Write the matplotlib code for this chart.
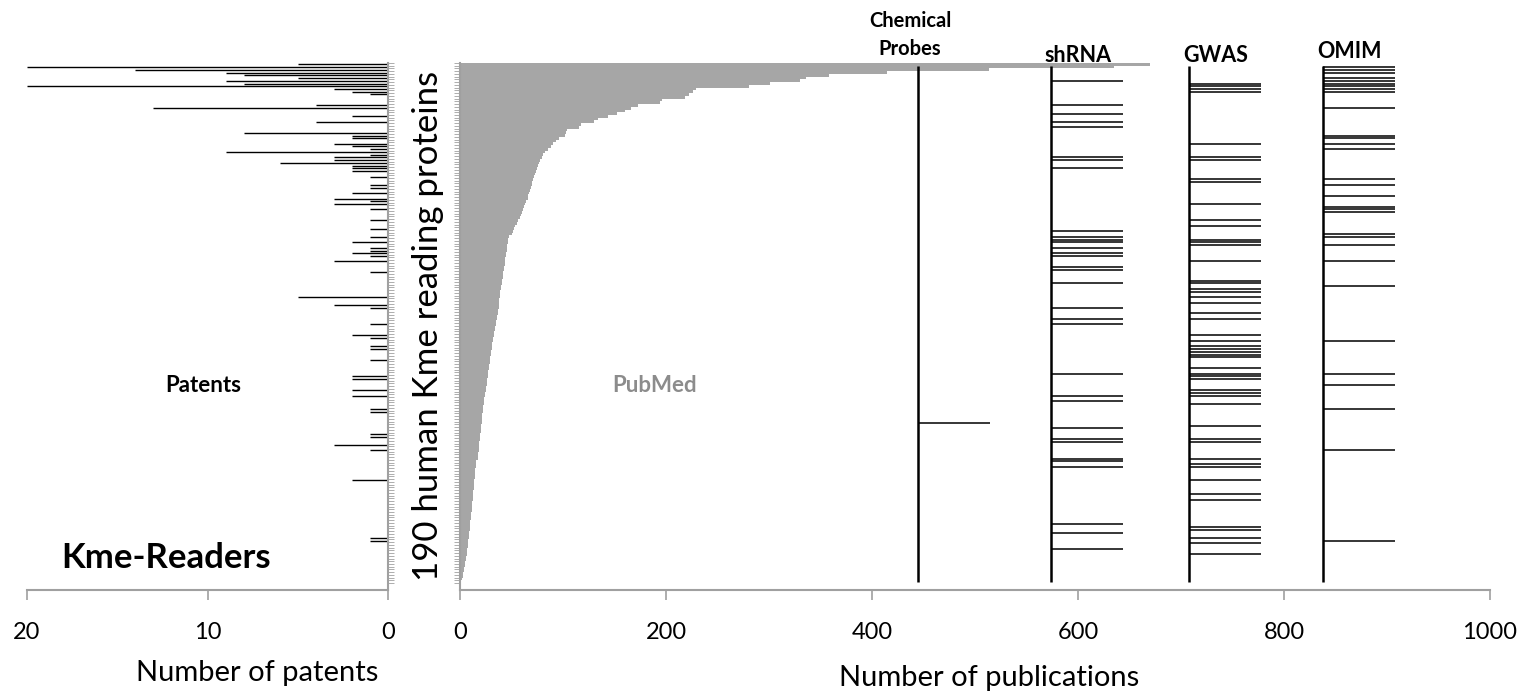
import matplotlib
matplotlib.use('Agg')
import matplotlib.pyplot as plt
import matplotlib.transforms as mtransforms
import numpy as np

plt.rcParams['font.family'] = ['Lato', 'DejaVu Sans']

# PubMed publications per protein (sorted, 190 proteins)
pubmed = [670, 635, 514, 415, 358, 336, 330, 301, 281, 229,
          226, 222, 218, 196, 194, 173, 166, 160, 152, 144,
          134, 130, 117, 116, 104, 103, 102, 96, 93, 90,
          88, 85, 83, 81, 80, 78, 77, 76, 75, 74,
          73, 72, 71, 70, 70, 69, 68, 67, 66, 66,
          64, 63, 62, 61, 60, 59, 58, 56, 55, 53,
          52, 51, 50, 48, 47, 47, 46, 46, 46, 45,
          45, 44, 44, 44, 43, 43, 42, 42, 42, 41,
          41, 40, 40, 39, 39, 39, 38, 38, 38, 38,
          37, 37, 36, 36, 35, 35, 34, 34, 33, 33,
          32, 32, 31, 31, 31, 30, 30, 29, 29, 29,
          28, 28, 27, 27, 27, 26, 26, 26, 25, 25,
          24, 24, 23, 23, 23, 22, 22, 22, 21, 21,
          21, 21, 20, 20, 20, 19, 19, 19, 18, 18,
          18, 18, 17, 17, 17, 16, 16, 16, 15, 15,
          15, 15, 14, 14, 14, 14, 13, 13, 13, 13,
          12, 12, 12, 12, 11, 11, 11, 10, 10, 10,
          10, 9, 9, 9, 8, 8, 8, 7, 7, 7,
          6, 6, 5, 5, 4, 4, 3, 3, 2, 1]

# patents: protein index -> number of patents
patent_rows = [0, 1, 2, 3, 4, 5, 6, 7, 8, 9, 10, 11, 15, 16, 19, 21,
               25, 26, 27, 29, 30, 31, 32, 33, 34, 35, 36, 37, 38, 39,
               41, 44, 45, 47, 49, 50, 51, 53, 57, 60, 63, 65, 67, 68, 69, 70, 72, 76,
               85, 88, 89, 95, 99, 100, 103, 104, 108,
               114, 115, 119, 121, 126, 127, 135, 136, 139, 141, 152, 173, 174]
patent_counts = [5, 20, 14, 9, 8, 5, 9, 8, 20, 3, 2, 1, 4, 13, 2, 4,
                 8, 2, 2, 3, 2, 1, 9, 1, 3, 3, 6, 2, 2, 2,
                 1, 1, 1, 2, 3, 1, 3, 1, 1, 1, 1, 2, 1, 1, 2, 1, 3, 1,
                 5, 3, 1, 1, 2, 1, 1, 1, 1,
                 2, 2, 2, 2, 1, 1, 1, 1, 3, 1, 2, 1, 1]

# proteins with a hit in each resource
chem_rows = [131]
shrna_rows = [6, 15, 18, 21, 23, 34, 35, 38, 61, 63, 64, 65, 67, 69, 70, 74, 75, 80,
              89, 93, 95, 113, 121, 123, 133, 137, 138, 144, 145, 147, 168, 171, 177]
gwas_rows = [7, 8, 9, 10, 29, 34, 35, 42, 43, 51, 57, 59, 64, 65, 66, 72, 79, 80, 82,
             83, 85, 87, 91, 93, 99, 101, 103, 104, 105, 106, 107, 111, 113, 114, 115,
             119, 120, 121, 124, 132, 137, 138, 144, 146, 147, 152, 157, 159, 169, 170,
             173, 175, 179]
omim_rows = [1, 2, 3, 5, 6, 7, 8, 9, 10, 16, 26, 27, 29, 31, 42, 44, 48, 52, 53, 54,
             62, 63, 66, 72, 81, 101, 113, 117, 126, 141, 174]

track_names = ['Chemical\nProbes', 'shRNA', 'GWAS', 'OMIM']
track_rows = [chem_rows, shrna_rows, gwas_rows, omim_rows]
track_base = [445, 574, 708, 838]
stick = 70

grey = '#a0a0a0'
n = len(pubmed)
W, H = 1522, 694

fig = plt.figure(figsize=(W / 100, H / 100), dpi=100)
ax_l = fig.add_axes([27 / W, 1 - 590 / H, 361 / W, 527 / H])
ax_r = fig.add_axes([460 / W, 1 - 590 / H, 1030 / W, 527 / H])

# left: patents
ax_l.hlines(patent_rows, 0, patent_counts, color='black', lw=1.0)
ax_l.set_xlim(20, 0)
ax_l.set_ylim(n + 2, -0.5)
ax_l.set_xticks([20, 10, 0])
ax_l.yaxis.tick_right()
ax_l.set_yticks(np.arange(-0.5, n + 0.5, 1))
ax_l.set_yticklabels([])
for s in ['left', 'top']:
    ax_l.spines[s].set_visible(False)

# right: publications + resources
ax_r.barh(np.arange(n), pubmed, height=1.0, color='#a6a6a6', linewidth=0)
for name, rows, base in zip(track_names, track_rows, track_base):
    ax_r.vlines(base, 0.5, n - 1, color='black', lw=1.8)
    ax_r.hlines(rows, base, base + stick, color='black', lw=1.1)
ax_r.set_xlim(0, 1000)
ax_r.set_ylim(n + 2, -0.5)
ax_r.set_xticks(range(0, 1001, 200))
ax_r.set_yticks(np.arange(-0.5, n + 0.5, 1))
ax_r.set_yticklabels([])
for s in ['right', 'top']:
    ax_r.spines[s].set_visible(False)

for ax in (ax_l, ax_r):
    for s in ax.spines.values():
        s.set_color(grey)
        s.set_linewidth(1.5)
    ax.tick_params(axis='x', length=7, width=1.2, color=grey, labelsize=17, pad=16)
    ax.tick_params(axis='y', length=4, width=0.6, color=grey, direction='out')

# labels
tr = mtransforms.blended_transform_factory(ax_r.transData, fig.transFigure)
ax_r.text(437, 1 - 35 / H, track_names[0], transform=tr, ha='center', va='center',
          fontsize=14.5, fontweight='bold', linespacing=1.5)
for name, base, ypx in zip(track_names[1:], track_base[1:], [55, 55, 52]):
    ax_r.text(base + 26, 1 - ypx / H, name, transform=tr, ha='center', va='center',
              fontsize=15.5, fontweight='bold')

fig.text(655 / W, 1 - 386 / H, 'PubMed', ha='center', va='center', fontsize=16,
         fontweight='bold', color='#8c8c8c')
fig.text(203 / W, 1 - 385 / H, 'Patents', ha='center', va='center', fontsize=16,
         fontweight='bold')
fig.text(166 / W, 1 - 558 / H, 'Kme-Readers', ha='center', va='center', fontsize=25,
         fontweight='bold')
fig.text(428 / W, 1 - 326 / H, '190 human Kme reading proteins', rotation=90,
         ha='center', va='center', fontsize=25)
fig.text(257 / W, 1 - 673 / H, 'Number of patents', ha='center', va='center', fontsize=21)
fig.text(989 / W, 1 - 678 / H, 'Number of publications', ha='center', va='center', fontsize=21)

fig.savefig('out.png', dpi=100)
